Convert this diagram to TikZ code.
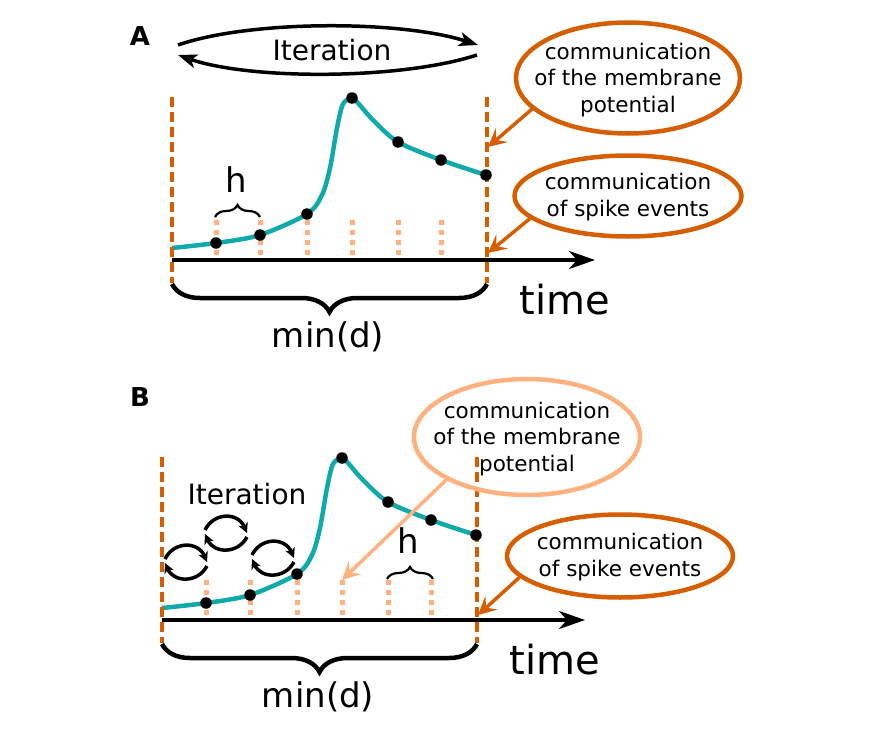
\documentclass[tikz,border=0pt]{standalone}
\usepackage{fontspec}
\setmainfont{DejaVu Sans}
\usetikzlibrary{arrows.meta,decorations.pathreplacing,shapes.geometric}
\definecolor{dorange}{RGB}{213,94,0}
\definecolor{lorange}{RGB}{255,178,128}
\definecolor{tealc}{RGB}{17,170,170}
\tikzset{
 boundline/.style={dorange, line width=4.5pt, dash pattern=on 10pt off 5pt},
 substep/.style={lorange, line width=5pt, dash pattern=on 5pt off 5pt},
 vcurve/.style={tealc, line width=4.5pt},
 axisline/.style={line width=3.5pt, -{Stealth[length=26pt,width=18pt,inset=8pt]}},
 dotpt/.style={circle, fill=black, inner sep=0pt, minimum size=11.5pt},
 bigbrace/.style={decorate, decoration={brace, amplitude=28pt}, line width=4.5pt},
 smallbrace/.style={decorate, decoration={brace, amplitude=12pt}, line width=2.2pt},
 commell/.style={ellipse, draw=dorange, line width=4.5pt, inner sep=0pt},
 lightell/.style={ellipse, draw=lorange, line width=4.5pt, inner sep=0pt},
 commtext/.style={align=center, font=\fontsize{21.5}{26.5}\selectfont, inner sep=0pt},
 commarrow/.style={dorange, line width=3.5pt, -{Stealth[length=18pt,width=18pt,inset=7pt]}},
 lightarrow/.style={lorange, line width=3.5pt, -{Stealth[length=18pt,width=18pt,inset=7pt]}},
 iterarrow/.style={line width=3.5pt, -{Stealth[length=19pt,width=14pt,inset=5pt]}},
 cycarrow/.style={line width=3.5pt, -{Stealth[length=10pt,width=10pt,inset=3pt]}},
 itertext/.style={font=\fontsize{28}{34}\selectfont, inner sep=0pt},
 htext/.style={font=\fontsize{34}{40}\selectfont, inner sep=0pt},
 timetext/.style={font=\fontsize{40}{48}\selectfont, inner sep=0pt},
 mintext/.style={font=\fontsize{34}{40}\selectfont, inner sep=0pt},
 paneltext/.style={font=\fontsize{26}{30}\selectfont\bfseries, inner sep=0pt},
}
\newcommand\panelbase[1]{%
 \coordinate (#1ax0) at (172,260);
 \coordinate (#1ax1) at (595,260);
 \draw[axisline] (#1ax0) -- (#1ax1);
 \foreach \x [count=\i] in {216,260,307,352,398,441} {
   \coordinate (#1s\i a) at (\x,220);
   \coordinate (#1s\i b) at (\x,255);
   \draw[substep] (#1s\i a) -- (#1s\i b);
 }
 \draw[vcurve] plot[smooth, tension=0.5] coordinates {(172,248) (216,243) (260,235) (307,214) (322,195) (330,168) (337,128) (343,104) (352,98) (358,103) (373,120) (398,142) (441,160) (486,175)};
 \coordinate (#1bl0) at (172,97);
 \coordinate (#1bl1) at (172,283);
 \coordinate (#1br0) at (487,97);
 \coordinate (#1br1) at (487,283);
 \draw[boundline] (#1bl0) -- (#1bl1);
 \draw[boundline] (#1br0) -- (#1br1);
 \node[dotpt] (#1d1) at (216,243) {};
 \node[dotpt] (#1d2) at (260,235) {};
 \node[dotpt] (#1d3) at (307,214) {};
 \node[dotpt] (#1d4) at (352,98) {};
 \node[dotpt] (#1d5) at (398,142) {};
 \node[dotpt] (#1d6) at (441,160) {};
 \node[dotpt] (#1d7) at (486,175) {};
 \coordinate (#1bb0) at (487,284);
 \coordinate (#1bb1) at (172,284);
 \draw[bigbrace] (#1bb0) -- (#1bb1);
 \node[timetext] (#1time) at (565,300) {time};
 \node[mintext] (#1mind) at (328,337) {min(d)};
}
\newcommand\cycpair[3]{%
 \coordinate (#1a0) at (#2-21,#3-3);
 \coordinate (#1a1) at (#2+21,#3);
 \coordinate (#1b0) at (#2+21,#3+4);
 \coordinate (#1b1) at (#2-21,#3+1);
 \draw[cycarrow] (#1a0) .. controls (#2-12,#3-21) and (#2+12,#3-21) .. (#1a1);
 \draw[cycarrow] (#1b0) .. controls (#2+12,#3+21) and (#2-12,#3+21) .. (#1b1);
}
\begin{document}
\begin{tikzpicture}[x=1pt,y=-1pt]
\useasboundingbox (0,0) rectangle (873,736);
\fill[white] (0,0) rectangle (873,736);
% ---------- panel A ----------
\node[paneltext] (labA) at (140,36) {A};
\panelbase{A}
\node[itertext] (iterA) at (332,50) {Iteration};
\coordinate (iaL1) at (178,45);
\coordinate (iaR1) at (478,45);
\coordinate (iaR2) at (477,55);
\coordinate (iaL2) at (178,55);
\draw[iterarrow] (iaL1) .. controls (250,20) and (400,20) .. (iaR1);
\draw[iterarrow] (iaR2) .. controls (400,80) and (250,80) .. (iaL2);
\coordinate (hbA1) at (215,217);
\coordinate (hbA2) at (260,217);
\draw[smallbrace] (hbA1) -- (hbA2);
\node[htext] (hA) at (236,180) {h};
\node[commell, minimum width=224pt, minimum height=111pt] (eA1) at (628,78) {};
\node[commtext] (tA1) at (628,80) {communication\\of the membrane\\potential};
\node[commell, minimum width=227pt, minimum height=81pt] (eA2) at (628,196) {};
\node[commtext] (tA2) at (628,197) {communication\\of spike events};
\coordinate (tgA1) at (488,147);
\coordinate (tgA2) at (488,253);
\draw[commarrow] (eA1.198) -- (tgA1);
\draw[commarrow] (eA2.193) -- (tgA2);
% ---------- panel B ----------
\node[paneltext] (labB) at (140,397) {B};
\begin{scope}[shift={(-10,360)}]
\panelbase{B}
\end{scope}
\node[itertext] (iterB) at (247,494) {Iteration};
\cycpair{cA}{186}{562}
\cycpair{cB}{226}{533}
\cycpair{cC}{273}{558}
\coordinate (hbB1) at (387,579);
\coordinate (hbB2) at (433,579);
\draw[smallbrace] (hbB1) -- (hbB2);
\node[htext] (hB) at (408,541) {h};
\node[lightell, minimum width=226pt, minimum height=116pt] (eB1) at (527,437) {};
\node[commtext] (tB1) at (527,439) {communication\\of the membrane\\potential};
\node[commell, minimum width=226pt, minimum height=83pt] (eB2) at (620,556) {};
\node[commtext] (tB2) at (620,557) {communication\\of spike events};
\coordinate (tgB1) at (342,580);
\coordinate (tgB2) at (478,615);
\draw[lightarrow] (eB1.208) -- (tgB1);
\draw[commarrow] (eB2.192) -- (tgB2);
\end{tikzpicture}
\end{document}
